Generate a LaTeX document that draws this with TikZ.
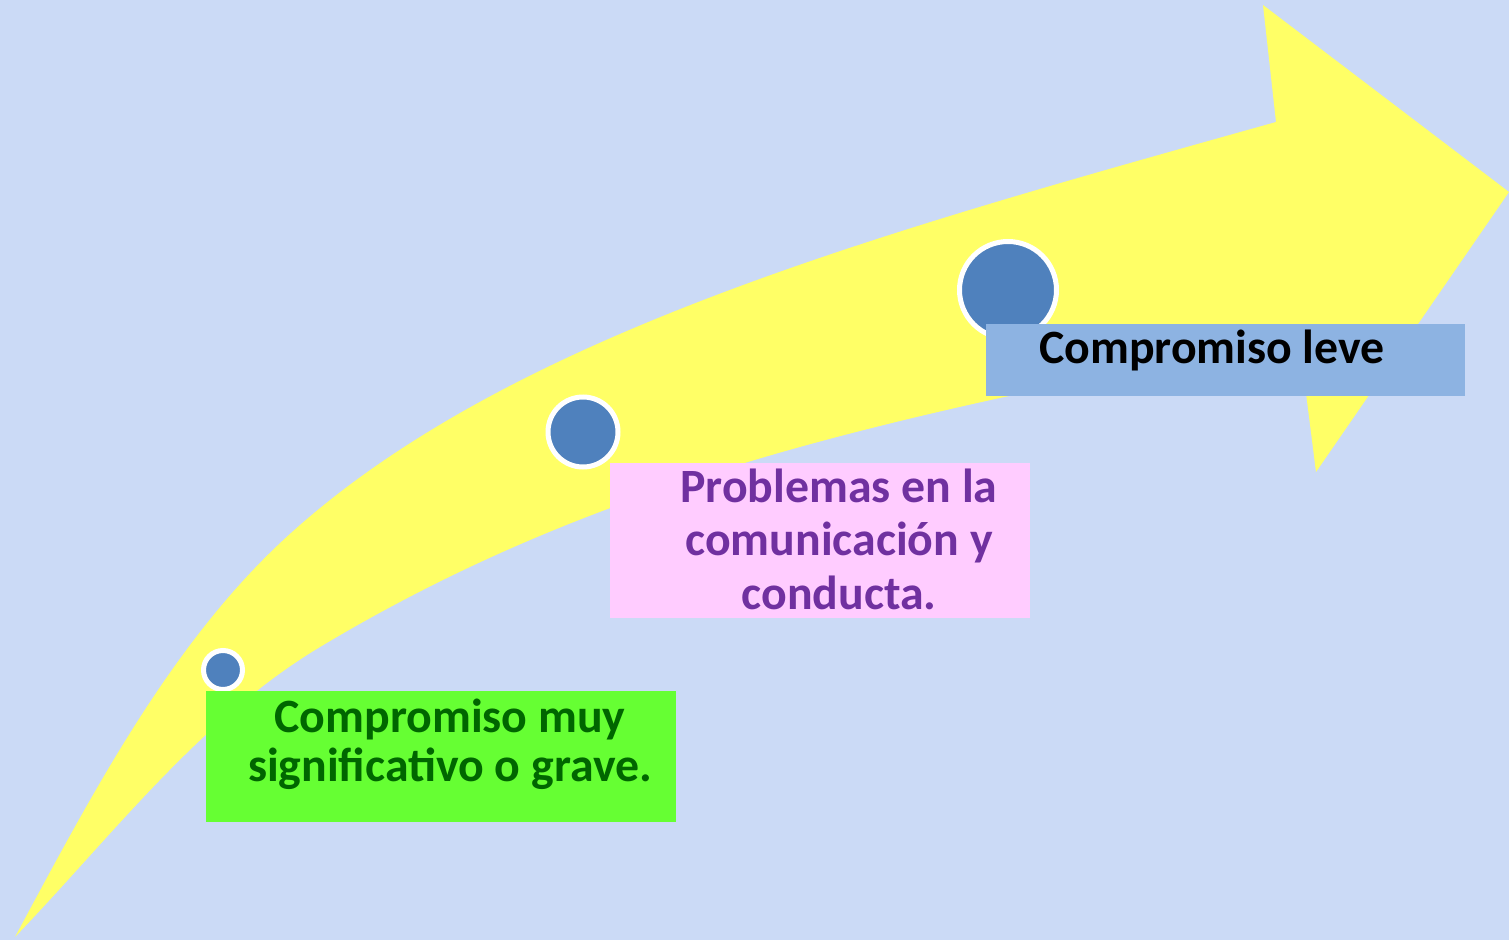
\documentclass[tikz,border=0pt]{standalone}
\usepackage{fontspec}
\setmainfont{Carlito}
\definecolor{bgblue}{RGB}{203,218,246}
\definecolor{myyellow}{RGB}{255,255,102}
\definecolor{dotblue}{RGB}{79,129,189}
\definecolor{mygreen}{RGB}{102,255,51}
\definecolor{darkgreen}{RGB}{0,102,0}
\definecolor{mypink}{RGB}{255,204,255}
\definecolor{mypurple}{RGB}{112,48,160}
\definecolor{myblue}{RGB}{141,179,226}

\begin{document}
\begin{tikzpicture}[
  dot/.style={circle,draw=white,line width=0.05cm,fill=dotblue,inner sep=0pt},
  box/.style={rectangle,inner sep=0pt},
  lbl/.style={inner sep=0pt,anchor=base,align=flush center}
]

% the background
\fill[bgblue] (0,0) rectangle (15.09,9.40);
\useasboundingbox (0,0) rectangle (15.09,9.40);

% the arrow
\fill[myyellow] (0.15,0.03) .. controls (0.91,1.44) and (1.72,3.00) .. (2.91,4.07)
  .. controls (5.14,6.08) and (8.91,7.10) .. (12.76,8.18)
  -- (12.63,9.35) -- (15.09,7.48) -- (13.16,4.68) -- (12.99,6.02)
  .. controls (9.06,5.27) and (6.12,4.68) .. (3.20,2.93)
  .. controls (2.00,2.21) and (1.12,1.04) .. (0.15,0.03) -- cycle;

% the dots
\foreach \i/\x/\y/\s in {1/2.23/2.70/0.39cm, 2/5.83/5.08/0.70cm, 3/10.08/6.50/0.97cm}
  \node[dot,minimum size=\s] (d\i) at (\x,\y) {};

% the boxes
\node[box,fill=mygreen,minimum width=4.70cm,minimum height=1.31cm] (grave) at (4.41,1.835) {};
\node[box,fill=mypink,minimum width=4.20cm,minimum height=1.55cm] (problemas) at (8.20,3.995) {};
\node[box,fill=myblue,minimum width=4.79cm,minimum height=0.72cm] (leve) at (12.255,5.80) {};

% the labels
\node[lbl,text=darkgreen,text width=4.6cm,font=\bfseries\fontsize{13.6}{14.2}\selectfont]
  (gravetxt) at (4.50,2.08) {Compromiso muy\\significativo o grave.};
\node[lbl,text=mypurple,text width=4.0cm,font=\bfseries\fontsize{13.6}{15.3}\selectfont]
  (problemastxt) at (8.39,4.38) {Problemas en la\\comunicación y\\conducta.};
\node[lbl,text=black,font=\bfseries\fontsize{13.6}{15.3}\selectfont]
  (levetxt) at (12.12,5.77) {Compromiso leve};
\end{tikzpicture}
\end{document}
